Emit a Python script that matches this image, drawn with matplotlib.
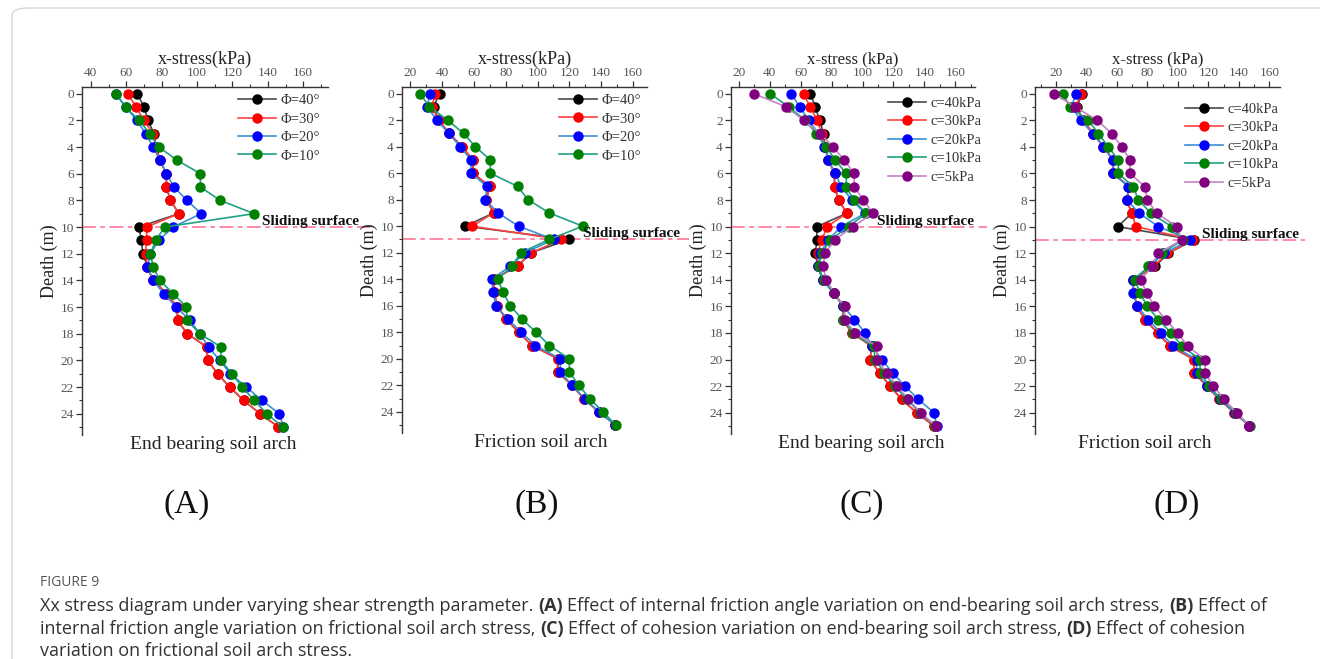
import matplotlib
matplotlib.use("Agg")
import matplotlib.pyplot as plt
from matplotlib.lines import Line2D
from matplotlib.patches import FancyBboxPatch
from matplotlib.ticker import MultipleLocator

# depth below surface (m)
depth = [0, 1, 2, 3, 4, 5, 6, 7, 8, 9, 10, 11, 12, 13, 14, 15, 16, 17, 18, 19, 20, 21, 22, 23, 24, 25]

# (A) end bearing soil arch, friction angle
A_phi40 = [66.3, 70.0, 72.4, 75.6, 77.0, 79.0, 82.7, 82.7, 85.0, 89.7, 67.2, 68.5, 69.4, 72.0, 75.0, 83.0, 88.8, 89.0, 94.4, 105.6, 106.0, 111.6, 118.4, 126.3, 135.6, 146.0]
A_phi30 = [61.0, 65.5, 70.0, 75.2, 76.6, 79.0, 82.7, 82.7, 85.0, 89.7, 71.5, 71.5, 71.0, 72.0, 75.0, 83.0, 88.8, 89.0, 94.4, 105.6, 106.0, 111.6, 118.4, 126.3, 135.6, 146.0]
A_phi20 = [54.0, 59.7, 66.0, 71.0, 75.2, 79.0, 82.7, 86.9, 94.4, 102.3, 86.5, 78.4, 73.7, 72.0, 75.2, 81.2, 88.2, 96.0, 101.5, 106.6, 112.8, 118.8, 127.8, 136.6, 146.5, 148.8]
A_phi10 = [54.0, 59.7, 67.2, 73.4, 78.4, 88.8, 101.9, 101.9, 113.0, 132.3, 81.8, 76.6, 73.7, 75.2, 79.0, 86.5, 94.0, 94.4, 101.5, 113.5, 113.5, 119.7, 125.5, 132.3, 139.4, 148.4]

# (B) friction soil arch, friction angle
B_phi40 = [38.4, 34.7, 37.8, 44.5, 52.5, 59.4, 59.4, 69.9, 67.8, 72.4, 54.6, 120.0, 96.1, 87.5, 72.4, 72.8, 74.5, 80.2, 88.1, 96.5, 112.7, 112.7, 121.7, 129.0, 138.4, 148.9]
B_phi30 = [35.7, 33.6, 37.8, 44.5, 52.5, 59.4, 59.4, 69.9, 67.8, 72.4, 58.8, 115.0, 96.1, 87.5, 72.4, 72.8, 74.5, 80.2, 88.1, 96.5, 112.7, 112.7, 121.7, 129.0, 138.4, 148.9]
B_phi20 = [32.6, 30.5, 36.8, 44.1, 51.4, 58.2, 58.2, 68.2, 67.2, 75.1, 88.1, 110.1, 92.3, 82.9, 71.4, 72.0, 73.9, 81.2, 89.8, 98.6, 114.3, 114.3, 121.7, 129.6, 138.4, 148.9]
B_phi10 = [26.3, 32.0, 43.5, 53.5, 60.9, 70.3, 70.3, 87.5, 94.0, 107.4, 128.4, 107.4, 89.6, 83.9, 75.1, 78.3, 82.9, 90.2, 99.0, 107.4, 120.0, 120.0, 125.9, 132.8, 141.0, 149.3]

# (C) end bearing soil arch, cohesion
C_c40 = [66.2, 69.5, 72.3, 74.8, 75.9, 78.0, 81.9, 81.9, 84.5, 89.9, 70.5, 70.5, 69.5, 71.0, 74.4, 81.3, 87.7, 87.3, 93.1, 106.0, 104.9, 111.0, 117.8, 125.4, 135.0, 146.2]
C_c30 = [61.9, 66.2, 70.5, 73.8, 75.9, 78.0, 81.9, 81.9, 84.5, 89.9, 77.0, 73.8, 71.0, 71.0, 74.4, 81.3, 87.7, 87.3, 93.1, 106.0, 104.9, 111.0, 117.8, 125.4, 135.0, 146.2]
C_c20 = [54.0, 59.4, 65.2, 71.6, 75.3, 78.0, 82.4, 86.2, 93.1, 101.7, 86.2, 78.0, 72.7, 71.0, 74.4, 81.3, 87.7, 94.8, 101.7, 106.0, 112.5, 119.4, 127.5, 136.1, 146.2, 148.0]
C_c10 = [40.4, 52.3, 63.0, 70.1, 76.6, 82.4, 89.5, 89.5, 94.2, 102.4, 91.0, 79.1, 73.8, 71.6, 74.8, 81.3, 88.2, 87.7, 93.8, 107.1, 108.2, 114.0, 121.1, 128.6, 137.2, 146.9]
C_c5 = [29.7, 50.8, 61.9, 72.7, 80.9, 88.2, 94.6, 94.6, 100.6, 106.7, 93.8, 81.9, 75.9, 74.4, 76.6, 81.7, 88.4, 88.4, 95.3, 109.2, 109.2, 115.7, 122.2, 129.7, 137.6, 147.5]

# (D) friction soil arch, cohesion
D_c40 = [36.8, 34.0, 37.5, 44.5, 51.1, 57.6, 57.6, 68.1, 66.4, 69.7, 60.5, 110.6, 93.7, 85.0, 70.3, 71.2, 73.0, 78.4, 86.7, 94.8, 110.6, 110.6, 118.9, 127.2, 137.1, 146.9]
D_c30 = [36.2, 33.1, 37.5, 44.5, 51.1, 57.6, 57.6, 68.1, 66.4, 69.7, 72.5, 110.2, 93.1, 83.9, 70.3, 71.2, 73.0, 78.4, 86.7, 94.8, 110.6, 110.6, 118.9, 127.2, 137.1, 146.9]
D_c20 = [32.9, 30.3, 36.2, 44.1, 51.1, 57.2, 57.2, 67.5, 66.4, 74.7, 87.2, 108.0, 90.9, 81.3, 70.3, 70.8, 73.4, 80.6, 88.7, 97.0, 112.3, 112.3, 119.3, 127.7, 137.5, 146.9]
D_c10 = [24.4, 29.2, 41.2, 47.8, 54.4, 60.9, 60.9, 70.8, 74.0, 82.4, 95.9, 103.2, 89.4, 80.6, 71.9, 75.1, 80.0, 87.2, 95.5, 102.9, 114.5, 114.5, 120.7, 128.3, 138.2, 147.4]
D_c5 = [18.9, 32.5, 47.1, 56.5, 63.1, 68.6, 68.6, 78.4, 80.0, 86.1, 99.2, 102.5, 87.2, 82.8, 75.8, 79.5, 84.6, 92.0, 99.9, 106.4, 117.8, 117.8, 123.3, 130.3, 138.6, 146.9]

phi_labels = ["\u03a6=40\u00b0", "\u03a6=30\u00b0", "\u03a6=20\u00b0", "\u03a6=10\u00b0"]
c_labels = ["c=40kPa", "c=30kPa", "c=20kPa", "c=10kPa", "c=5kPa"]
sliding_depth = [10, 11, 10, 11]
panel_titles = ["End bearing soil arch", "Friction soil arch", "End bearing soil arch", "Friction soil arch"]
panel_tags = ["(A)", "(B)", "(C)", "(D)"]

# marker colour, line colour
styles = [("#000000", "#4a4a4a"), ("#ff0000", "#ff4040"), ("#0000ff", "#3d8fd6"),
          ("#008000", "#1fa086"), ("#800080", "#c584c5")]

SERIF = "Liberation Serif"
plt.rcParams["font.family"] = SERIF

W, H = 1320, 659
fig = plt.figure(figsize=(W / 100, H / 100), dpi=100)

# card border
fig.patches.append(FancyBboxPatch((12 / W, -0.05), 1.2, 1 - 8 / H + 0.05,
                                  boxstyle="round,pad=0,rounding_size=0.012",
                                  transform=fig.transFigure, fill=False,
                                  edgecolor="#d6d6d6", linewidth=1.0))

# px positions: left, right, top, bottom
boxes = [(82, 328, 87, 435), (402, 647, 87, 433), (731, 975, 87, 434), (1035, 1280, 87, 434)]
xlims = [(35, 174), (14.8, 168.8), (15, 172.7), (6.2, 167)]
xlabels = ["x-stress(kPa)", "x-stress(kPa)", "x-stress (kPa)", "x-stress (kPa)"]
xlabel_size = [13, 13, 12, 12]
series = [[A_phi40, A_phi30, A_phi20, A_phi10],
          [B_phi40, B_phi30, B_phi20, B_phi10],
          [C_c40, C_c30, C_c20, C_c10, C_c5],
          [D_c40, D_c30, D_c20, D_c10, D_c5]]
legend_pos = [(0.635, 0.980), (0.641, 0.980), (0.644, 0.972), (0.612, 0.955)]
slide_text = [(0.73, 9.6), (0.74, 10.55), (0.60, 9.6), (0.68, 10.6)]
line_end = [1.17, 1.17, 1.05, 1.10]
title_x = [0.533, 0.568, 0.533, 0.449]
tag_x = [187, 537, 862, 1177]

for i in range(4):
    l, r, t, b = boxes[i]
    ax = fig.add_axes([l / W, 1 - b / H, (r - l) / W, (b - t) / H])
    labels = phi_labels if i < 2 else c_labels
    handles = []
    for j, vals in enumerate(series[i]):
        mc, lc = styles[j]
        ax.plot(vals, depth, color=lc, lw=1.2, marker="o", ms=6.5,
                mfc=mc, mec=mc, zorder=3 + j, clip_on=False)
        handles.append(Line2D([], [], color=lc, lw=1.2, marker="o", ms=6.5, mfc=mc, mec=mc))
    ax.set_xlim(*xlims[i])
    ax.set_ylim(25.6, -0.5)
    ax.xaxis.tick_top()
    ax.xaxis.set_label_position("top")
    ax.xaxis.set_major_locator(MultipleLocator(20))
    ax.xaxis.set_minor_locator(MultipleLocator(10))
    ax.yaxis.set_major_locator(MultipleLocator(2))
    ax.yaxis.set_minor_locator(MultipleLocator(1))
    ax.set_yticks(range(0, 25, 2))
    ax.spines["right"].set_visible(False)
    ax.spines["bottom"].set_visible(False)
    for s in ("top", "left"):
        ax.spines[s].set_linewidth(1.0)
        ax.spines[s].set_color("#333333")
    ax.tick_params(which="major", direction="out", length=4, width=0.9, color="#333333",
                   labelsize=9.5, labelcolor="#555555", pad=2)
    ax.tick_params(which="minor", direction="out", length=2.5, width=0.8, color="#333333")
    ax.set_xlabel(xlabels[i], fontsize=xlabel_size[i], color="#222222", labelpad=2)
    ax.set_ylabel("Death (m)", fontsize=13, color="#222222", labelpad=2)

    # sliding surface
    ax.plot([0, line_end[i]], [sliding_depth[i], sliding_depth[i]],
            transform=ax.get_yaxis_transform(), color="#ff6b8e", lw=1.1,
            dashes=(9, 3, 3, 3), clip_on=False, zorder=2)
    ax.text(slide_text[i][0], slide_text[i][1], "Sliding surface",
            transform=ax.get_yaxis_transform(), fontsize=11, fontweight="bold",
            color="#111111", va="center", ha="left", zorder=10)

    ax.legend(handles, labels, loc="upper left", bbox_to_anchor=legend_pos[i],
              frameon=False, fontsize=10.5, handlelength=2.6, handletextpad=0.3,
              labelspacing=0.36, borderpad=0, borderaxespad=0,
              labelcolor="#333333")

    ax.text(title_x[i], -0.002, panel_titles[i], transform=ax.transAxes,
            ha="center", va="top", fontsize=14, color="#222222")
    fig.text(tag_x[i] / W, 1 - 505 / H, panel_tags[i], ha="center", va="center",
             fontsize=24, color="#111111")

# caption
CAP = "Open Sans"
CAP_SIZE = 13.0
fig.text(40 / W, 1 - 582 / H, "FIGURE 9", fontsize=10, color="#555555",
         family=CAP, va="center", ha="left")

caption_lines = [
    [("Xx stress diagram under varying shear strength parameter.", False), ("(A)", True),
     ("Effect of internal friction angle variation on end-bearing soil arch stress,", False),
     ("(B)", True), ("Effect of", False)],
    [("internal friction angle variation on frictional soil arch stress,", False), ("(C)", True),
     ("Effect of cohesion variation on end-bearing soil arch stress,", False),
     ("(D)", True), ("Effect of cohesion", False)],
    [("variation on frictional soil arch stress.", False)],
]
caption_y = [611, 634, 656]

renderer = fig.canvas.get_renderer()
probe_a = fig.text(0, 0, "aa", fontsize=CAP_SIZE, family=CAP)
probe_b = fig.text(0, 0, "a a", fontsize=CAP_SIZE, family=CAP)
space_w = probe_b.get_window_extent(renderer).width - probe_a.get_window_extent(renderer).width
probe_a.remove()
probe_b.remove()

for parts, yb in zip(caption_lines, caption_y):
    x = 40.0
    for k, (txt, bold) in enumerate(parts):
        t = fig.text(x / W, 1 - yb / H, txt, fontsize=CAP_SIZE, family=CAP,
                     fontweight="bold" if bold else "normal", color="#333333",
                     va="baseline", ha="left")
        x += t.get_window_extent(renderer).width + space_w

fig.savefig("out.png", dpi=100)
